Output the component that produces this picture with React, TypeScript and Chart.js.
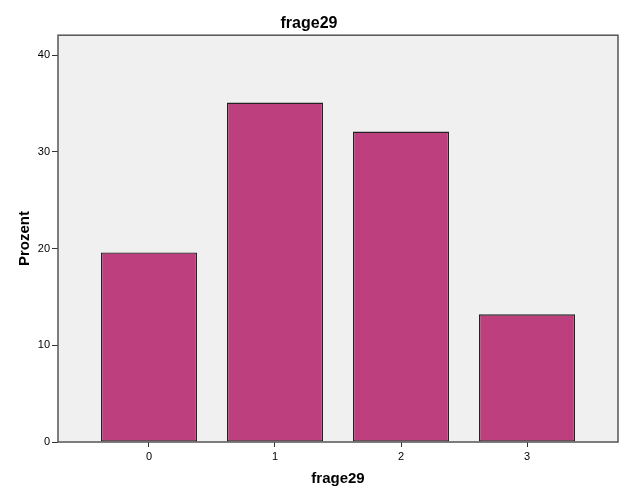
import React, { useEffect, useRef } from "react";
import { Chart, registerables } from "chart.js";

Chart.register(...registerables);

const categories = [0, 1, 2, 3];
const percentValues = [19.6, 35.1, 32.1, 13.2];
const yTickValues = [0, 10, 20, 30, 40];
const chartTitle = "frage29";
const xAxisTitle = "frage29";
const yAxisTitle = "Prozent";

const FONT = "'Liberation Sans', Arial, sans-serif";

const framePlugin = {
  id: "frame",
  beforeDraw(chart: any) {
    const { ctx, chartArea } = chart;
    ctx.save();
    ctx.fillStyle = "#f0f0f0";
    ctx.fillRect(chartArea.left, chartArea.top, chartArea.right - chartArea.left, chartArea.bottom - chartArea.top);
    ctx.restore();
  },
  afterDraw(chart: any) {
    const { ctx, chartArea } = chart;
    ctx.save();
    ctx.strokeStyle = "#555555";
    ctx.lineWidth = 1.5;
    ctx.strokeRect(chartArea.left, chartArea.top, chartArea.right - chartArea.left, chartArea.bottom - chartArea.top);
    ctx.restore();
  },
};

export default function App() {
  const ref = useRef<HTMLCanvasElement | null>(null);

  useEffect(() => {
    document.body.style.margin = "0";
    const canvas = ref.current;
    if (!canvas) return;
    const chart = new Chart(canvas, {
      type: "bar",
      data: {
        datasets: [
          {
            data: categories.map((c, i) => ({ x: c, y: percentValues[i] })),
            backgroundColor: "#bd3f7e",
            borderColor: "#222222",
            borderWidth: 1.3,
            borderSkipped: false,
            barPercentage: 0.762,
            categoryPercentage: 1,
          },
        ],
      },
      options: {
        responsive: false,
        animation: false,
        devicePixelRatio: 1,
        layout: { padding: { left: 0, right: 8, top: 0, bottom: 0 } },
        plugins: {
          legend: { display: false },
          tooltip: { enabled: false },
          title: {
            display: true,
            text: chartTitle,
            color: "#000",
            font: { family: FONT, size: 16, weight: "bold" },
            padding: { top: 14, bottom: 2 },
          },
        },
        scales: {
          x: {
            type: "linear",
            min: -0.722,
            max: 3.722,
            offset: false,
            grid: { display: true, drawOnChartArea: false, drawTicks: true, tickLength: 5, color: "#333", offset: false },
            border: { display: false },
            ticks: { color: "#000", font: { family: FONT, size: 11 }, padding: 3, maxRotation: 0 },
            afterBuildTicks: (scale: any) => {
              scale.ticks = categories.map((v) => ({ value: v }));
            },
            afterFit: (scale: any) => {
              scale.height = 59;
            },
            title: {
              display: true,
              text: xAxisTitle,
              color: "#000",
              font: { family: FONT, size: 15, weight: "bold" },
              padding: { top: 0, bottom: 13 },
            },
          },
          y: {
            type: "linear",
            min: 0,
            max: 42.07,
            grid: { display: true, drawOnChartArea: false, drawTicks: true, tickLength: 6, color: "#333" },
            border: { display: false },
            ticks: { color: "#000", font: { family: FONT, size: 11 }, padding: 2 },
            afterBuildTicks: (scale: any) => {
              scale.ticks = yTickValues.map((v) => ({ value: v }));
            },
            afterFit: (scale: any) => {
              scale.width = 58;
            },
            title: {
              display: true,
              text: yAxisTitle,
              color: "#000",
              font: { family: FONT, size: 15, weight: "bold" },
              padding: { top: 16, bottom: 0 },
            },
          },
        },
      },
      plugins: [framePlugin],
    });
    return () => chart.destroy();
  }, []);

  return (
    <div style={{ position: "absolute", left: 0, top: 0, width: 626, height: 501, background: "#fff" }}>
      <canvas ref={ref} width={626} height={501} />
    </div>
  );
}
